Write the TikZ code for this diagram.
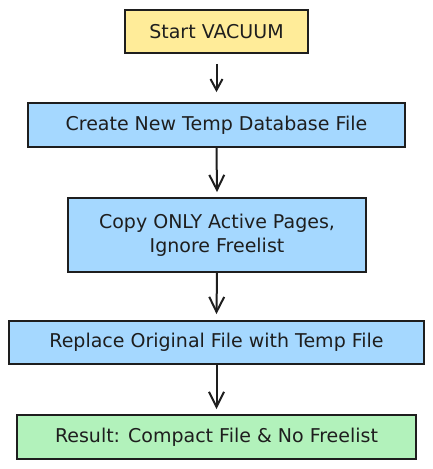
\documentclass[tikz,border=0pt]{standalone}
\usepackage{fontspec}
\setmainfont{DejaVu Sans}
\usetikzlibrary{arrows.meta}
\definecolor{ink}{HTML}{1E1E1E}
\definecolor{yel}{HTML}{FFEC99}
\definecolor{blu}{HTML}{A5D8FF}
\definecolor{grn}{HTML}{B2F2BB}
\begin{document}
\begin{tikzpicture}[x=1pt,y=-1pt,
  box/.style={draw=ink,line width=1.8pt,inner sep=0pt,font=\fontsize{19}{24}\selectfont,text=ink,align=center},
  conn/.style={draw=ink,line width=2pt,-{Straight Barb[length=15pt,width=15pt,line width=2pt]}},
  shortconn/.style={draw=ink,line width=2pt,-{Straight Barb[length=11pt,width=12pt,line width=2pt]}}]
\useasboundingbox (0,0) rectangle (433,469);
\node[box,fill=yel,minimum width=183pt,minimum height=43pt] (s) at (216.5,31.5) {Start VACUUM};
\node[box,fill=blu,minimum width=377pt,minimum height=44pt] (c) at (216.5,125) {Create New Temp Database File};
\node[box,fill=blu,minimum width=298pt,minimum height=74pt] (p) at (217,235) {Copy ONLY Active Pages,\\Ignore Freelist};
\node[box,fill=blu,minimum width=415pt,minimum height=43pt] (r) at (216.5,342.5) {Replace Original File with Temp File};
\node[box,fill=grn,minimum width=399pt,minimum height=44pt] (f) at (216.5,437) {Result: Compact File \& No Freelist};
\draw[shortconn] ([yshift=-10pt]s.south) -- ([yshift=10pt]c.north);
\draw[conn] (c.south) -- ([yshift=5pt]p.north);
\draw[conn] (p.south) -- ([yshift=6pt]r.north);
\draw[conn] (r.south) -- ([yshift=5pt]f.north);
\end{tikzpicture}
\end{document}
